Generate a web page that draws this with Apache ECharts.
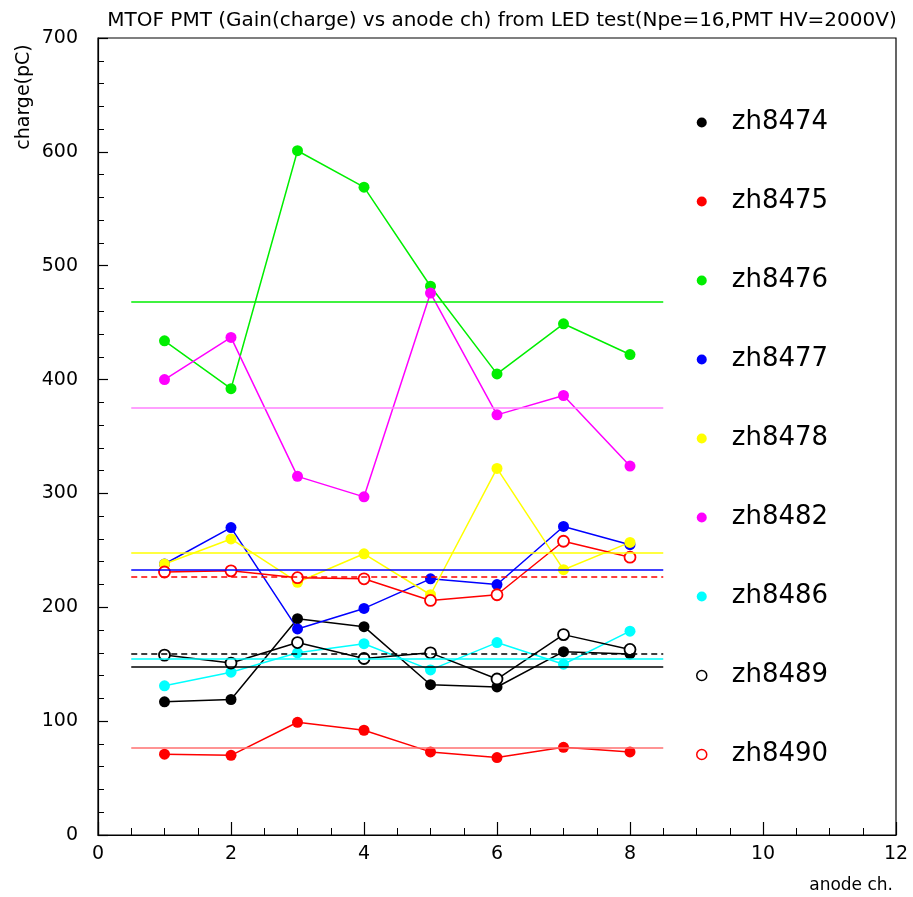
<!DOCTYPE html>
<html>
<head>
<meta charset="utf-8">
<script src="https://cdn.jsdelivr.net/npm/echarts@6/dist/echarts.min.js"></script>
<style>html,body{margin:0;padding:0;background:#fff;}#c{width:913px;height:897px;}</style>
</head>
<body>
<div id="c"></div>
<script>
var channels = [1, 2, 3, 4, 5, 6, 7, 8];
var names = ['zh8474','zh8475','zh8476','zh8477','zh8478','zh8482','zh8486','zh8489','zh8490'];
var zh8474 = [117, 119, 190, 183, 132, 130, 161, 159];
var zh8475 = [71, 70, 99, 92, 73, 68, 77, 73];
var zh8476 = [434, 392, 601, 569, 482, 405, 449, 422];
var zh8477 = [238, 270, 181, 199, 225, 220, 271, 255];
var zh8478 = [238, 260, 222, 247, 211, 322, 233, 257];
var zh8482 = [400, 437, 315, 297, 476, 369, 386, 324];
var zh8486 = [131, 143, 160, 168, 145, 169, 150, 179];
var zh8489 = [158, 151, 169, 155, 160, 137, 176, 163];
var zh8490 = [231, 232, 226, 225, 206, 211, 258, 244];
var means = [148, 77, 468, 233, 248, 375, 155, 159, 227];
var meanRange = [0.5, 8.5];
var xTicks = [0, 2, 4, 6, 8, 10, 12];
var yTicks = [0, 100, 200, 300, 400, 500, 600, 700];

var values = [zh8474, zh8475, zh8476, zh8477, zh8478, zh8482, zh8486, zh8489, zh8490];
var colors = ['#000000','#ff0000','#00ee00','#0000ff','#ffff00','#ff00ff','#00ffff','#000000','#ff0000'];
var hollow = [false,false,false,false,false,false,false,true,true];
var dashedMean = [false,false,false,false,false,false,false,true,true];
var meanColors = ['#000000','#ff7070','#00ee00','#0000ff','#ffff00','#ff80ff','#00ffff','#000000','#ff0000'];

var FONT = 'DejaVu Sans';
var chart = echarts.init(document.getElementById('c'), null, {renderer:'canvas'});
var series = names.map(function(n, i){
  return {
    name: n,
    type: 'line',
    data: channels.map(function(x, k){ return [x, values[i][k]]; }),
    symbol: 'circle',
    symbolSize: 11,
    showSymbol: true,
    lineStyle: {color: colors[i], width: 1.5},
    itemStyle: hollow[i] ? {color: '#ffffff', borderColor: colors[i], borderWidth: 1.8} : {color: colors[i], borderWidth: 0},
    emphasis: {disabled: true},
    animation: false,
    z: 3,
    markLine: {
      silent: true,
      symbol: ['none','none'],
      animation: false,
      label: {show: false},
      lineStyle: {color: meanColors[i], width: 1.5, type: dashedMean[i] ? [6,4] : 'solid'},
      data: [[{coord: [meanRange[0], means[i]]}, {coord: [meanRange[1], means[i]]}]]
    }
  };
});

var legendData = names.map(function(n, i){
  return hollow[i] ?
    {name: n, icon: 'circle', itemStyle: {color: '#ffffff', borderColor: colors[i], borderWidth: 1.5}} :
    {name: n, icon: 'circle', itemStyle: {color: colors[i], borderWidth: 0}};
});

chart.setOption({
  animation: false,
  backgroundColor: '#ffffff',
  title: {
    text: 'MTOF PMT (Gain(charge) vs anode ch) from LED test(Npe=16,PMT HV=2000V)',
    left: 497, top: 6, textAlign: 'center',
    textStyle: {fontFamily: FONT, fontSize: 20, fontWeight: 'normal', color: '#000'}
  },
  legend: {
    orient: 'vertical',
    left: 691, top: 104,
    itemWidth: 10, itemHeight: 10,
    itemGap: 52,
    selectedMode: false,
    data: legendData,
    textStyle: {fontFamily: FONT, fontSize: 26, color: '#000', lineHeight: 27, padding: [0,0,0,20]}
  },
  grid: {left: 98, top: 38, right: 17, bottom: 62, show: true, borderColor: '#000', borderWidth: 1.2, containLabel: false},
  xAxis: {
    type: 'value', min: 0, max: 12, interval: 2,
    axisLine: {show: true, onZero: false, lineStyle: {color: '#000', width: 1.2}},
    axisTick: {show: true, inside: true, length: 13, lineStyle: {color: '#000', width: 1.2}},
    minorTick: {show: true, splitNumber: 4, length: 7, lineStyle: {color: '#000', width: 1}},
    splitLine: {show: false},
    axisLabel: {margin: 10, fontFamily: FONT, fontSize: 19, color: '#000',
      formatter: function(v){ return xTicks.indexOf(v) >= 0 ? String(v) : ''; }}
  },
  yAxis: {
    type: 'value', min: 0, max: 700, interval: 100,
    axisLine: {show: true, onZero: false, lineStyle: {color: '#000', width: 1.2}},
    axisTick: {show: true, inside: true, length: 10, lineStyle: {color: '#000', width: 1.2}},
    minorTick: {show: true, splitNumber: 5, length: 6, lineStyle: {color: '#000', width: 1}},
    splitLine: {show: false},
    axisLabel: {margin: 20, fontFamily: FONT, fontSize: 19, color: '#000',
      formatter: function(v){ return yTicks.indexOf(v) >= 0 ? String(v) : ''; }}
  },
  graphic: [
    {type: 'text', x: 24, y: 97, rotation: Math.PI / 2,
     style: {text: 'charge(pC)', fontFamily: FONT, fontSize: 19, fill: '#000', textAlign: 'center', textVerticalAlign: 'middle'}},
    {type: 'text', x: 893, y: 886,
     style: {text: 'anode ch.', fontFamily: FONT, fontSize: 17, fill: '#000', textAlign: 'right', textVerticalAlign: 'middle'}}
  ],
  series: series
});
</script>
</body>
</html>
